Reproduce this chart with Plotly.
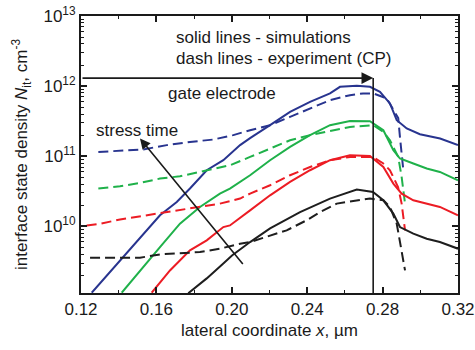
import math
import plotly.graph_objects as go

# Interface state density along the channel (x in um, N_it in cm^-3)
blue_sim_x = [0.1257, 0.1407, 0.1513, 0.1619, 0.1708, 0.1778, 0.1867, 0.1955, 0.2044, 0.2097,
              0.2203, 0.2309, 0.2415, 0.2521, 0.2574, 0.2663, 0.2733, 0.2786, 0.2839, 0.2875,
              0.2928, 0.2998, 0.3105, 0.3200]
blue_sim_n = [1.13e9, 3.27e9, 7.03e9, 1.44e10, 2.22e10, 3.46e10, 6.31e10, 8.77e10, 1.44e11, 1.81e11,
              2.77e11, 4.30e11, 5.97e11, 7.87e11, 9.77e11, 1.01e12, 9.77e11, 8.30e11, 5.66e11, 3.27e11,
              2.49e11, 2.06e11, 1.79e11, 1.44e11]
blue_exp_x = [0.1292, 0.1407, 0.1531, 0.1655, 0.1778, 0.1902, 0.2008, 0.2097, 0.2203, 0.2309,
              0.2415, 0.2521, 0.2627, 0.2696, 0.2751, 0.2822, 0.2848, 0.2883, 0.2892, 0.2910]
blue_exp_n = [1.15e11, 1.19e11, 1.25e11, 1.44e11, 1.60e11, 1.73e11, 2.00e11, 2.35e11, 2.77e11, 3.64e11,
              4.80e11, 6.31e11, 7.43e11, 7.87e11, 7.87e11, 6.67e11, 5.06e11, 3.49e11, 1.89e11, 6.31e10]

green_sim_x = [0.1416, 0.1513, 0.1619, 0.1725, 0.1831, 0.1937, 0.1990, 0.2097, 0.2203, 0.2309,
               0.2415, 0.2521, 0.2627, 0.2733, 0.2804, 0.2857, 0.2892, 0.2963, 0.3034, 0.3104, 0.3200]
green_sim_n = [1.13e9, 2.35e9, 5.06e9, 1.09e10, 1.89e10, 2.93e10, 3.46e10, 5.35e10, 8.77e10, 1.36e11,
               2.00e11, 2.77e11, 3.19e11, 3.16e11, 2.35e11, 1.22e11, 9.27e10, 7.87e10, 6.67e10, 5.97e10, 4.54e10]
green_exp_x = [0.1292, 0.1407, 0.1513, 0.1619, 0.1725, 0.1831, 0.1937, 0.1990, 0.2097, 0.2203,
               0.2309, 0.2415, 0.2521, 0.2627, 0.2751, 0.2804, 0.2839, 0.2883, 0.2901, 0.2919]
green_exp_n = [3.46e10, 3.73e10, 4.16e10, 4.80e10, 5.18e10, 5.97e10, 7.03e10, 7.43e10, 9.77e10, 1.29e11,
               1.69e11, 2.00e11, 2.30e11, 2.62e11, 2.77e11, 2.22e11, 1.69e11, 9.77e10, 5.06e10, 2.11e10]

red_sim_x = [0.1575, 0.1672, 0.1778, 0.1867, 0.1955, 0.1990, 0.2097, 0.2203, 0.2309, 0.2415,
             0.2521, 0.2627, 0.2733, 0.2804, 0.2857, 0.2901, 0.2963, 0.3034, 0.3104, 0.3200]
red_sim_n = [1.13e9, 2.35e9, 4.54e9, 6.31e9, 9.77e9, 1.03e10, 1.69e10, 2.77e10, 4.30e10, 6.31e10,
             8.77e10, 1.03e11, 1.01e11, 7.03e10, 4.07e10, 2.93e10, 2.35e10, 2.11e10, 1.89e10, 1.44e10]
red_exp_x = [0.1230, 0.1301, 0.1407, 0.1513, 0.1619, 0.1725, 0.1831, 0.1937, 0.2044, 0.2097,
             0.2203, 0.2309, 0.2415, 0.2521, 0.2627, 0.2749, 0.2802, 0.2839, 0.2882, 0.2901, 0.2919]
red_exp_n = [1.03e10, 1.09e10, 1.25e10, 1.39e10, 1.55e10, 1.73e10, 1.89e10, 2.11e10, 2.49e10, 2.93e10,
             3.85e10, 5.35e10, 7.03e10, 8.77e10, 9.77e10, 9.77e10, 7.94e10, 6.31e10, 3.64e10, 2.11e10, 8.77e9]

black_sim_x = [0.1769, 0.1867, 0.1955, 0.2001, 0.2097, 0.2203, 0.2362, 0.2521, 0.2663, 0.2749,
               0.2804, 0.2857, 0.2892, 0.2963, 0.3034, 0.3104, 0.3200]
black_sim_n = [1.11e9, 1.81e9, 2.96e9, 3.85e9, 5.97e9, 9.35e9, 1.60e10, 2.49e10, 3.34e10, 3.09e10,
               2.35e10, 1.52e10, 9.77e9, 7.87e9, 6.67e9, 5.97e9, 4.80e9]
black_exp_x = [0.1248, 0.1407, 0.1513, 0.1619, 0.1725, 0.1831, 0.1937, 0.2044, 0.2097, 0.2185,
               0.2291, 0.2397, 0.2468, 0.2557, 0.2663, 0.2733, 0.2804, 0.2839, 0.2875, 0.2901, 0.2919]
black_exp_n = [3.57e9, 3.57e9, 3.57e9, 3.98e9, 4.16e9, 4.30e9, 4.80e9, 5.66e9, 5.97e9, 7.03e9,
               8.77e9, 1.22e10, 1.60e10, 2.11e10, 2.35e10, 2.49e10, 2.35e10, 1.89e10, 1.09e10, 4.54e9, 2.35e9]

# Gate edge and the "gate electrode" arrow level
gate_edge_x = 0.275
gate_arrow_n = 1.30e12
# Stress-time arrow (tail -> head)
stress_tail = (0.2065, 2.77e9)
stress_head = (0.1513, 1.79e11)

x_ticks = [0.12, 0.16, 0.20, 0.24, 0.28, 0.32]
x_tick_text = ["0.12", "0.16", "0.20", "0.24", "0.28", "0.32"]
y_ticks = [1e10, 1e11, 1e12, 1e13]
y_tick_text = ["10<sup>10</sup>", "10<sup>11</sup>", "10<sup>12</sup>", "10<sup>13</sup>"]
y_range_n = (1.12e9, 1e13)

colors = {"blue": "#28348f", "green": "#1fb14a", "red": "#ec1c24", "black": "#1e1e1e"}
series = [
    ("blue", blue_sim_x, blue_sim_n, blue_exp_x, blue_exp_n),
    ("green", green_sim_x, green_sim_n, green_exp_x, green_exp_n),
    ("red", red_sim_x, red_sim_n, red_exp_x, red_exp_n),
    ("black", black_sim_x, black_sim_n, black_exp_x, black_exp_n),
]

fig = go.Figure()
for name, sx, sn, ex, en in series:
    fig.add_trace(go.Scatter(x=sx, y=sn, mode="lines",
                             line=dict(color=colors[name], width=2), showlegend=False))
    fig.add_trace(go.Scatter(x=ex, y=en, mode="lines",
                             line=dict(color=colors[name], width=2, dash="10px,5px"), showlegend=False))

# gate edge vertical line
fig.add_trace(go.Scatter(x=[gate_edge_x, gate_edge_x], y=[gate_arrow_n, y_range_n[0]], mode="lines",
                         line=dict(color="#1a1a1a", width=1.6), showlegend=False))

font = "Liberation Sans, Arial, Helvetica, sans-serif"
ink = "#1a1a1a"

# gate electrode arrow (annotation coordinates on a log axis are log10 values)
fig.add_annotation(x=gate_edge_x, y=math.log10(gate_arrow_n), ax=0.12, ay=math.log10(gate_arrow_n),
                   xref="x", yref="y", axref="x", ayref="y", text="", showarrow=True,
                   arrowhead=2, arrowsize=1.3, arrowwidth=1.8, arrowcolor=ink, standoff=0)
# stress time arrow
fig.add_annotation(x=stress_head[0], y=math.log10(stress_head[1]),
                   ax=stress_tail[0], ay=math.log10(stress_tail[1]),
                   xref="x", yref="y", axref="x", ayref="y", text="", showarrow=True,
                   arrowhead=2, arrowsize=1.3, arrowwidth=1.6, arrowcolor=ink, standoff=0)

labels = [
    ("solid lines - simulations", 0.1699, 5.0e12),
    ("dash lines - experiment (CP)", 0.1699, 2.5e12),
    ("gate electrode", 0.1655, 7.9e11),
    ("stress time", 0.1274, 2.3e11),
]
for txt, lx, ly in labels:
    fig.add_annotation(x=lx, y=math.log10(ly), xref="x", yref="y", text=txt, showarrow=False,
                       xanchor="left", yanchor="middle", borderpad=0,
                       font=dict(size=17, color=ink, family=font))

axis_common = dict(showline=True, linecolor=ink, linewidth=2, mirror="ticks", automargin=False,
                   ticks="inside", tickcolor=ink, tickwidth=1.5, showgrid=False, zeroline=False,
                   tickfont=dict(size=17, color=ink, family=font))

fig.update_xaxes(range=[0.12, 0.32], tickmode="array", tickvals=x_ticks, ticktext=x_tick_text,
                 ticklen=6, minor=dict(ticks="inside", dtick=0.02, ticklen=3, tickwidth=1.2, tickcolor=ink),
                 title=dict(text="lateral coordinate <i>x</i>, µm", font=dict(size=17, color=ink, family=font),
                            standoff=6),
                 **axis_common)
fig.update_yaxes(type="log", range=[math.log10(y_range_n[0]), math.log10(y_range_n[1])],
                 tickmode="array", tickvals=y_ticks, ticktext=y_tick_text, ticklen=6,
                 minor=dict(ticks="inside", ticklen=3, tickwidth=1.2, tickcolor=ink,
                            tickvals=[m * 10 ** e for e in range(9, 13) for m in range(2, 10)]),
                 title=dict(text="interface state density <i>N</i><sub>it</sub>, cm<sup>-3</sup>",
                            font=dict(size=17, color=ink, family=font), standoff=11),
                 **axis_common)

fig.update_layout(template="none", width=475, height=350, margin=dict(l=81, r=17, t=16, b=57),
                  paper_bgcolor="white", plot_bgcolor="white", showlegend=False,
                  font=dict(family=font, color=ink))

fig.write_html("out.html")
